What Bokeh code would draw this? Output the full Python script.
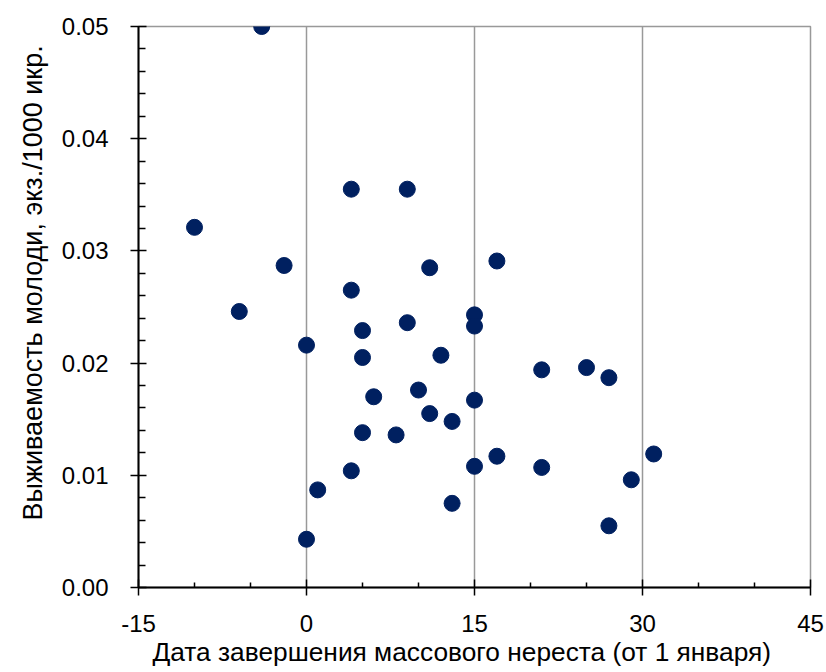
from bokeh.plotting import figure
from bokeh.models import Range1d, FixedTicker, NumeralTickFormatter, Title
from bokeh.embed import file_html
from bokeh.resources import INLINE

# Data (day of completion of mass spawning, survival of juveniles)
spawn_day = [-4, -10, -2, -6, 0, 0, 1, 4, 4, 4, 5, 5, 5, 6, 8, 9, 9, 10, 11, 11,
             12, 13, 13, 15, 15, 15, 15, 17, 17, 21, 21, 25, 27, 27, 29, 31]
survival = [0.0500, 0.0321, 0.0287, 0.0246, 0.0216, 0.0043, 0.0087, 0.0355, 0.0265, 0.0104,
            0.0229, 0.0205, 0.0138, 0.0170, 0.0136, 0.0355, 0.0236, 0.0176, 0.0285, 0.0155,
            0.0207, 0.0148, 0.0075, 0.0243, 0.0233, 0.0167, 0.0108, 0.0291, 0.0117, 0.0194,
            0.0107, 0.0196, 0.0187, 0.0055, 0.0096, 0.0119]

x_ticks = [-15, 0, 15, 30, 45]
x_minor = [-10, -5, 5, 10, 20, 25, 35, 40]
y_ticks = [0.0, 0.01, 0.02, 0.03, 0.04, 0.05]
y_minor = [0.002, 0.004, 0.006, 0.008, 0.012, 0.014, 0.016, 0.018,
           0.022, 0.024, 0.026, 0.028, 0.032, 0.034, 0.036, 0.038,
           0.042, 0.044, 0.046, 0.048]
x_title = "Дата завершения массового нереста (от 1 января)"
y_title = "Выживаемость молоди, экз./1000 икр."

FONT = "Liberation Sans"

W, H = 826, 672
p = figure(width=W, height=H, output_backend="svg", toolbar_location=None,
           x_range=Range1d(-15, 45), y_range=Range1d(0, 0.05),
           min_border_left=138, min_border_right=W - 810,
           min_border_top=26, min_border_bottom=H - 587)

p.background_fill_color = "white"
p.border_fill_color = "white"
p.outline_line_color = "#999999"
p.outline_line_width = 1.5

# grid
p.xgrid.ticker = FixedTicker(ticks=[0, 15, 30])
p.xgrid.grid_line_color = "#999999"
p.xgrid.grid_line_width = 1.5
p.ygrid.grid_line_color = None

# axes
p.xaxis.ticker = FixedTicker(ticks=x_ticks, minor_ticks=x_minor)
p.yaxis.ticker = FixedTicker(ticks=y_ticks, minor_ticks=y_minor)
p.xaxis.formatter = NumeralTickFormatter(format="0")
p.yaxis.formatter = NumeralTickFormatter(format="0.00")

for ax in (p.xaxis, p.yaxis):
    ax.axis_line_color = "black"
    ax.axis_line_width = 2
    ax.major_tick_line_color = "black"
    ax.major_tick_line_width = 1.5
    ax.minor_tick_line_color = "black"
    ax.minor_tick_line_width = 1.5
    ax.major_tick_in = 8
    ax.major_tick_out = 8
    ax.minor_tick_out = 0
    ax.major_label_text_font = FONT
    ax.major_label_text_font_size = "24px"
    ax.major_label_text_color = "black"

p.xaxis.minor_tick_in = 5
p.yaxis.minor_tick_in = 7
p.xaxis.major_label_standoff = 19
p.yaxis.major_label_standoff = 22

# axis titles
p.add_layout(Title(text=x_title, align="left", offset=14, standoff=0,
                   text_font=FONT, text_font_size="26.3px", text_font_style="normal",
                   text_color="black"), "below")
p.add_layout(Title(text=y_title, align="left", offset=67, standoff=22,
                   text_font=FONT, text_font_size="27px", text_font_style="normal",
                   text_color="black"), "left")

p.scatter(spawn_day, survival, size=16, fill_color="#002060", line_color="#002060")

open("out.html", "w").write(file_html(p, INLINE))
